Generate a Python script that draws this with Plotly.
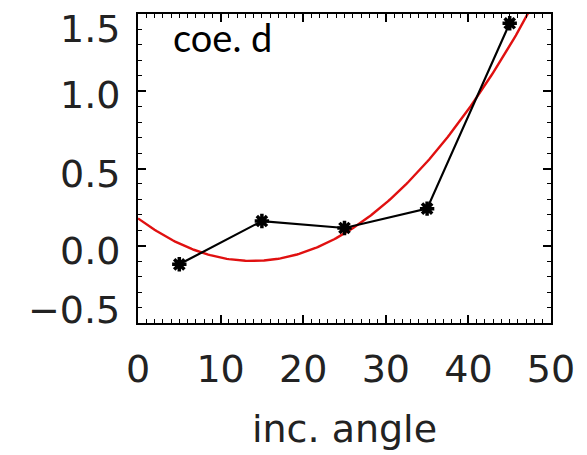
import numpy as np
import plotly.graph_objects as go

# data
inc_angle = [5, 15, 25, 35, 45]
coe_d = [-0.12, 0.16, 0.115, 0.24, 1.44]

x_ticks = [0, 10, 20, 30, 40, 50]
y_ticks = [-0.5, 0.0, 0.5, 1.0, 1.5]
y_tick_text = ["\u22120.5", "0.0", "0.5", "1.0", "1.5"]
# vertical nudges (pixels, up is positive) of the y tick labels
y_label_shift = [13, -5, -5, -4, -15]

# quadratic fit of the points (red curve)
coef = np.polyfit(inc_angle, coe_d, 2)
x_fit = np.linspace(0, 50, 201)
y_fit = np.polyval(coef, x_fit)

fig = go.Figure()
fig.add_trace(go.Scatter(x=x_fit, y=y_fit, mode="lines",
                         line=dict(color="#e01010", width=2.4), showlegend=False))
fig.add_trace(go.Scatter(x=inc_angle, y=coe_d, mode="lines+markers",
                         line=dict(color="black", width=2.2),
                         marker=dict(symbol="asterisk-open", size=12, color="black",
                                     line=dict(color="black", width=3.5)),
                         showlegend=False))

font_main = "DejaVu Sans"
annotations = [dict(text="coe. d", xref="paper", yref="paper", x=0.08, y=0.925,
                    xanchor="left", yanchor="middle", showarrow=False,
                    font=dict(family="Lato", size=38, color="black"))]
for v, t, s in zip(y_ticks, y_tick_text, y_label_shift):
    annotations.append(dict(text=t, xref="paper", yref="y", x=0, y=v,
                            xanchor="right", yanchor="middle", xshift=-16, yshift=s,
                            showarrow=False,
                            font=dict(family=font_main, size=38, color="#222")))

fig.update_layout(
    width=587, height=455,
    margin=dict(l=138, r=30, t=13, b=132),
    paper_bgcolor="white", plot_bgcolor="white",
    font=dict(family=font_main, size=38, color="#222"),
    annotations=annotations,
)
fig.update_xaxes(
    range=[0, 50], tickvals=x_ticks, ticks="inside", ticklen=8, tickwidth=1.5,
    tickcolor="black", showline=True, linecolor="black", linewidth=2, mirror="ticks",
    showgrid=False, zeroline=False, ticklabelstandoff=11,
    minor=dict(dtick=1, ticks="inside", ticklen=4, tickcolor="black", tickwidth=1),
    title=dict(text="inc. angle", font=dict(family=font_main, size=38), standoff=26),
    tickfont=dict(family=font_main, size=38, color="#222"),
)
fig.update_yaxes(
    range=[-0.5, 1.5], tickvals=y_ticks, showticklabels=False, ticks="inside",
    ticklen=8, tickwidth=1.5, tickcolor="black", showline=True, linecolor="black",
    linewidth=2, mirror="ticks", showgrid=False, zeroline=False,
    minor=dict(dtick=0.1, ticks="inside", ticklen=4, tickcolor="black", tickwidth=1),
)
fig.write_html("out.html")
